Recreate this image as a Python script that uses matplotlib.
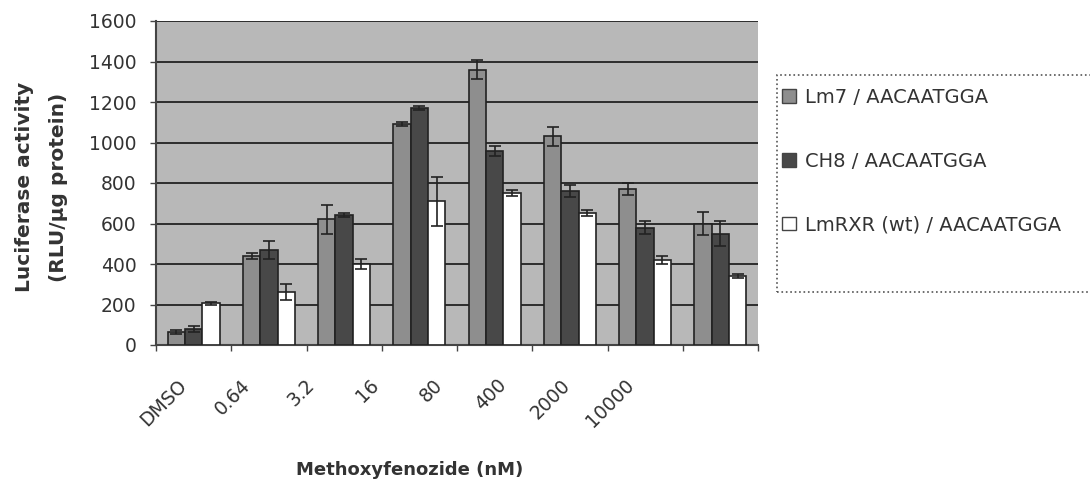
import matplotlib
matplotlib.use("Agg")
import matplotlib.pyplot as plt
import numpy as np
from matplotlib.patches import Patch, Rectangle

categories = ["DMSO", "0.64", "3.2", "16", "80", "400", "2000", "10000"]
series_names = ["Lm7 / AACAATGGA", "CH8 / AACAATGGA", "LmRXR (wt) / AACAATGGA"]
lm7 = [65, 440, 620, 1090, 1360, 1030, 770, 600]
lm7_err = [10, 15, 70, 10, 45, 45, 30, 55]
ch8 = [80, 470, 640, 1170, 960, 760, 580, 550]
ch8_err = [15, 45, 10, 10, 25, 30, 30, 60]
rxr = [205, 260, 400, 710, 750, 650, 420, 340]
rxr_err = [5, 40, 25, 120, 15, 15, 20, 10]
y_ticks = [0, 200, 400, 600, 800, 1000, 1200, 1400, 1600]

values = [lm7, ch8, rxr]
errors = [lm7_err, ch8_err, rxr_err]
colors = ["#8e8e8e", "#484848", "#ffffff"]

plt.rcParams['font.family'] = ['DejaVu Sans']
fig = plt.figure(figsize=(10.9, 4.88), dpi=100)
ax = fig.add_axes([156/1090, 1-345/488, (758-156)/1090, (345-21)/488])
ax.set_facecolor("#b8b8b8")

x = np.arange(len(categories))
w = 0.23
for k in range(3):
    ax.bar(x + (k-1)*w, values[k], width=w, color=colors[k], edgecolor="#222222",
           linewidth=1.2, yerr=errors[k], capsize=4,
           error_kw=dict(ecolor="#222222", elinewidth=1.2, capthick=1.2), zorder=3)

ax.set_ylim(0, 1600)
ax.set_xlim(-0.5, len(categories)-0.5)
ax.set_yticks(y_ticks)
ax.set_yticklabels([str(t) for t in y_ticks], fontsize=13.5, color="#333333")
ax.yaxis.grid(True, color="#222222", linewidth=1.3, zorder=1)
ax.set_axisbelow(True)
for s in ["top", "right"]:
    ax.spines[s].set_visible(False)
ax.spines["left"].set_color("#444444")
ax.spines["bottom"].set_color("#444444")
ax.spines["left"].set_linewidth(1.5)
ax.spines["bottom"].set_linewidth(1.5)
ax.tick_params(axis="y", length=4, width=1, color="#444444", pad=10)

# x: boundary ticks (minor) and label positions (major, no tick marks)
ax.set_xticks(np.arange(len(categories)+1) - 0.5, minor=True)
label_pos = -0.22 + 0.85*np.arange(len(categories))
ax.set_xticks(label_pos)
ax.set_xticklabels(categories, rotation=45, ha="right", rotation_mode="anchor",
                   fontsize=13.5, color="#333333")
ax.tick_params(axis="x", which="major", length=0, pad=22)
ax.tick_params(axis="x", which="minor", length=4, width=1, color="#444444")

fig.text(25/1090, 1-187/488, "Luciferase activity", rotation=90, ha="center", va="center",
         fontsize=14.5, fontweight="bold", color="#333333")
fig.text(58/1090, 1-187/488, "(RLU/\u00b5g protein)", rotation=90, ha="center", va="center",
         fontsize=14.5, fontweight="bold", color="#333333")
fig.text(410/1090, 1-470/488, "Methoxyfenozide (nM)", ha="center", va="center",
         fontsize=13, fontweight="bold", color="#333333")

# legend frame (dotted, extends past right edge)
fig.patches.append(Rectangle((777/1090, 1-292/488), 400/1090, (292-75)/488,
                             transform=fig.transFigure, fill=False, linestyle=":",
                             edgecolor="#555555", linewidth=1.2))
handles = [Patch(facecolor=colors[k], edgecolor="#444444") for k in range(3)]
leg = fig.legend(handles, series_names, loc="upper left", bbox_to_anchor=(782/1090, 1-88/488),
                 frameon=False, fontsize=14, handlelength=0.7, handleheight=0.7,
                 labelspacing=2.3, borderpad=0, handletextpad=0.5, borderaxespad=0)
for t in leg.get_texts():
    t.set_color("#333333")

fig.savefig("out.png", dpi=100)
